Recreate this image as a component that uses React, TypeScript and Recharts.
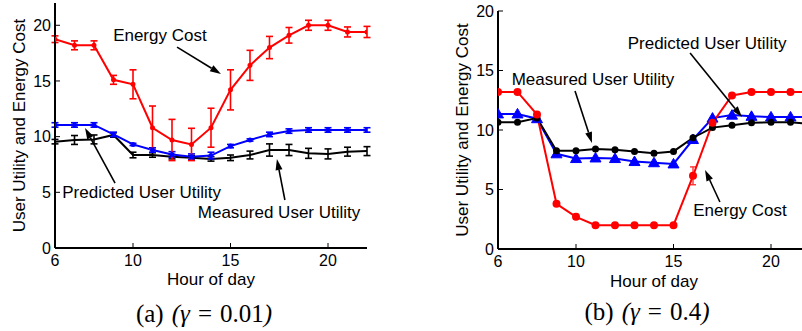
import React from 'react';
import { LineChart, Line, XAxis, YAxis, ErrorBar, ReferenceLine, ReferenceDot, Label } from 'recharts';

const hours = [6, 7, 8, 9, 10, 11, 12, 13, 14, 15, 16, 17, 18, 19, 20, 21, 22];
const xTicks = [6, 10, 15, 20];
const yTicks = [0, 5, 10, 15, 20];

// (a) gamma = 0.01
const costA = [18.75, 18.2, 18.2, 15.1, 14.7, 10.8, 9.7, 9.3, 10.8, 14.2, 16.4, 18.0, 19.1, 20.0, 20.0, 19.4, 19.4];
const costErrA = [0.3, 0.4, 0.4, 0.4, 1.3, 1.95, 1.85, 1.45, 1.75, 1.8, 1.35, 1.0, 0.7, 0.45, 0.45, 0.45, 0.5];
const predA = [11.05, 11.05, 11.05, 10.2, 9.3, 8.8, 8.4, 8.2, 8.3, 9.15, 9.7, 10.2, 10.5, 10.6, 10.6, 10.6, 10.6];
const predErrA = [0.2, 0.2, 0.2, 0.2, 0.1, 0.2, 0.25, 0.25, 0.3, 0.15, 0.1, 0.2, 0.2, 0.2, 0.2, 0.2, 0.2];
const measA = [9.55, 9.7, 9.75, 10.15, 8.35, 8.35, 8.2, 8.1, 8.0, 8.1, 8.35, 8.8, 8.8, 8.5, 8.45, 8.65, 8.7];
const measErrA = [0.2, 0.4, 0.4, 0.2, 0.25, 0.2, 0.2, 0.2, 0.2, 0.25, 0.35, 0.55, 0.5, 0.45, 0.45, 0.4, 0.4];

// (b) gamma = 0.4
const costB = [13.2, 13.2, 11.3, 3.8, 2.7, 2.0, 2.0, 2.0, 2.0, 2.0, 6.15, 10.6, 12.9, 13.2, 13.2, 13.2, 13.2];
const costErrB = [0, 0, 0, 0, 0.2, 0, 0, 0, 0, 0, 0.75, 0, 0, 0, 0, 0, 0];
const predB = [11.35, 11.35, 10.95, 8.0, 7.6, 7.65, 7.6, 7.35, 7.25, 7.15, 9.2, 11.0, 11.25, 11.15, 11.1, 11.1, 11.1];
const measB = [10.65, 10.65, 11.0, 8.25, 8.25, 8.4, 8.35, 8.2, 8.05, 8.2, 9.35, 10.2, 10.4, 10.6, 10.65, 10.65, 10.5];

type Note = { text: string; x: number; y: number; from: [number, number]; to: [number, number] };

const notesA: Note[] = [
  { text: 'Energy Cost', x: 11.38, y: 19.07, from: [12.26, 18.04], to: [14.51, 15.62] },
  { text: 'Predicted User Utility', x: 10.44, y: 4.94, from: [9.08, 5.83], to: [7.54, 10.77] },
  { text: 'Measured User Utility', x: 17.49, y: 3.23, from: [17.79, 4.31], to: [17.38, 7.99] },
];

const notesB: Note[] = [
  { text: 'Measured User Utility', x: 10.87, y: 14.24, from: [9.95, 13.28], to: [10.82, 8.91] },
  { text: 'Predicted User Utility', x: 16.72, y: 17.27, from: [15.85, 16.47], to: [18.51, 11.09] },
  { text: 'Energy Cost', x: 18.41, y: 3.24, from: [17.38, 3.95], to: [16.62, 6.64] },
];

const rowsA = hours.map((h, i) => ({
  hour: h, cost: costA[i], costErr: costErrA[i], pred: predA[i], predErr: predErrA[i], meas: measA[i], measErr: measErrA[i],
}));
const rowsB = hours.map((h, i) => ({
  hour: h, cost: costB[i], costErr: costErrB[i] || null, pred: predB[i], meas: measB[i],
}));

const Arrow = (p: any) => {
  const { x1, y1, x2, y2 } = p;
  const a = Math.atan2(y2 - y1, x2 - x1);
  const L = 11;
  const W = 3.5;
  const bx = x2 - L * Math.cos(a);
  const by = y2 - L * Math.sin(a);
  const px = -Math.sin(a) * W;
  const py = Math.cos(a) * W;
  return (
    <g>
      <line x1={x1} y1={y1} x2={bx} y2={by} stroke="#000" strokeWidth={1.6} />
      <polygon points={`${x2},${y2} ${bx + px},${by + py} ${bx - px},${by - py}`} fill="#000" />
    </g>
  );
};

const Triangle = (p: any) => {
  if (p.cx == null || p.cy == null) return <g />;
  const { cx, cy } = p;
  return <polygon points={`${cx},${cy - 5.5} ${cx - 5.5},${cy + 4} ${cx + 5.5},${cy + 4}`} fill="#0000ff" stroke="#0000ff" />;
};

const axisStyle = { fill: '#000', fontSize: 16 };

function Panel(props: any) {
  const { left, width, top, yAxisWidth, rightMargin, xAxisHeight, yMax, rows, notes, yLabelX, xLabelDy, captionDy, tag, gamma, variant } = props;
  return (
    <div style={{ position: 'absolute', left, top: 0 }}>
      <LineChart width={width} height={331} data={rows} margin={{ top, right: rightMargin, left: 0, bottom: 0 }}>
        <XAxis
          dataKey="hour" type="number" domain={[6, 22]} ticks={xTicks} allowDataOverflow
          height={xAxisHeight} tickSize={-5} tickMargin={12} interval={0}
          axisLine={{ stroke: '#000', strokeWidth: 2 }} tickLine={{ stroke: '#000' }} tick={axisStyle}
        >
          <Label
            content={(lp: any) => {
              const vb = lp.viewBox || {};
              const cx = vb.x + vb.width / 2;
              return (
                <g>
                  <text x={cx} y={vb.y + xLabelDy} textAnchor="middle" dominantBaseline="central" fontSize={17} fill="#000">Hour of day</text>
                  <text x={cx - 7} y={vb.y + captionDy} textAnchor="middle" dominantBaseline="central" fontSize={25}
                    fontFamily="'Liberation Serif', 'DejaVu Serif', serif" fill="#000">
                    <tspan>{`(${tag})`}</tspan>
                    <tspan dx={8} fontStyle="italic">(γ</tspan>
                    <tspan dx={8}>=</tspan>
                    <tspan dx={8}>{gamma}</tspan>
                    <tspan fontStyle="italic">)</tspan>
                  </text>
                </g>
              );
            }}
          />
        </XAxis>
        <XAxis
          xAxisId="top" orientation="top" type="number" domain={[6, 22]} ticks={xTicks} allowDataOverflow
          height={0} tickSize={-5} tick={false} axisLine={{ stroke: '#000', strokeWidth: 2 }} tickLine={{ stroke: '#000' }}
        />
        <YAxis
          type="number" domain={[0, yMax]} ticks={yTicks} allowDataOverflow width={yAxisWidth}
          tickSize={-5} tickMargin={9} interval={0}
          axisLine={{ stroke: '#000', strokeWidth: 2 }} tickLine={{ stroke: '#000' }} tick={axisStyle}
        >
          <Label
            content={(lp: any) => {
              const vb = lp.viewBox || {};
              const cy = vb.y + vb.height / 2;
              return (
                <text x={vb.x + yLabelX} y={cy} transform={`rotate(-90, ${vb.x + yLabelX}, ${cy})`} textAnchor="middle"
                  dominantBaseline="central" fontSize={17} fill="#000">User Utility and Energy Cost</text>
              );
            }}
          />
        </YAxis>
        <YAxis
          yAxisId="right" orientation="right" type="number" domain={[0, yMax]} ticks={yTicks} allowDataOverflow
          width={0} tickSize={-5} tick={false} axisLine={{ stroke: '#000', strokeWidth: 2 }} tickLine={{ stroke: '#000' }}
        />

        {variant === 'a' ? (
          <Line dataKey="meas" stroke="#000" strokeWidth={2} dot={false} isAnimationActive={false}>
            <ErrorBar dataKey="measErr" direction="y" width={3.5} stroke="#000" strokeWidth={1.6} isAnimationActive={false} />
          </Line>
        ) : null}
        {variant === 'a' ? (
          <Line dataKey="pred" stroke="#0000ff" strokeWidth={2} dot={{ r: 1.5, fill: '#0000ff', stroke: '#0000ff' }} isAnimationActive={false}>
            <ErrorBar dataKey="predErr" direction="y" width={3.5} stroke="#0000ff" strokeWidth={1.6} isAnimationActive={false} />
          </Line>
        ) : null}
        {variant === 'a' ? (
          <Line dataKey="cost" stroke="#ff0000" strokeWidth={2} dot={{ r: 1.5, fill: '#ff0000', stroke: '#ff0000' }} isAnimationActive={false}>
            <ErrorBar dataKey="costErr" direction="y" width={3.5} stroke="#ff0000" strokeWidth={1.6} isAnimationActive={false} />
          </Line>
        ) : null}

        {variant === 'b' ? (
          <Line dataKey="pred" stroke="#0000ff" strokeWidth={2} dot={<Triangle />} isAnimationActive={false} />
        ) : null}
        {variant === 'b' ? (
          <Line dataKey="meas" stroke="#000" strokeWidth={2} dot={{ r: 2.5, fill: '#000', stroke: '#000' }} isAnimationActive={false} />
        ) : null}
        {variant === 'b' ? (
          <Line dataKey="cost" stroke="#ff0000" strokeWidth={2} dot={{ r: 3, fill: '#ff0000', stroke: '#ff0000' }} isAnimationActive={false}>
            <ErrorBar dataKey="costErr" direction="y" width={3} stroke="#ff3333" strokeWidth={1.4} isAnimationActive={false} />
          </Line>
        ) : null}

        {notes.map((n: Note) => (
          <ReferenceLine
            key={`arrow-${n.text}`}
            segment={[{ x: n.from[0], y: n.from[1] }, { x: n.to[0], y: n.to[1] }]}
            shape={(p: any) => <Arrow {...p} />}
          />
        ))}
        {notes.map((n: Note) => (
          <ReferenceDot
            key={`text-${n.text}`}
            x={n.x} y={n.y} r={0}
            shape={(p: any) => (
              <text x={p.cx} y={p.cy} textAnchor="middle" dominantBaseline="central" fontSize={17} fill="#000">{n.text}</text>
            )}
          />
        ))}
      </LineChart>
    </div>
  );
}

export default function App() {
  return (
    <div
      style={{
        position: 'absolute', left: 0, top: 0, width: 802, height: 331, overflow: 'hidden', background: '#fff',
        fontFamily: "'Liberation Sans', Arial, sans-serif",
      }}
    >
      <Panel
        variant="a" left={0} width={400} top={3} yAxisWidth={55} rightMargin={33} xAxisHeight={83} yMax={22}
        rows={rowsA} notes={notesA} yLabelX={19} xLabelDy={31} captionDy={65} tag="a" gamma="0.01"
      />
      <Panel
        variant="b" left={400} width={440} top={11} yAxisWidth={98} rightMargin={30} xAxisHeight={82} yMax={20}
        rows={rowsB} notes={notesB} yLabelX={62} xLabelDy={32} captionDy={62} tag="b" gamma="0.4"
      />
    </div>
  );
}
